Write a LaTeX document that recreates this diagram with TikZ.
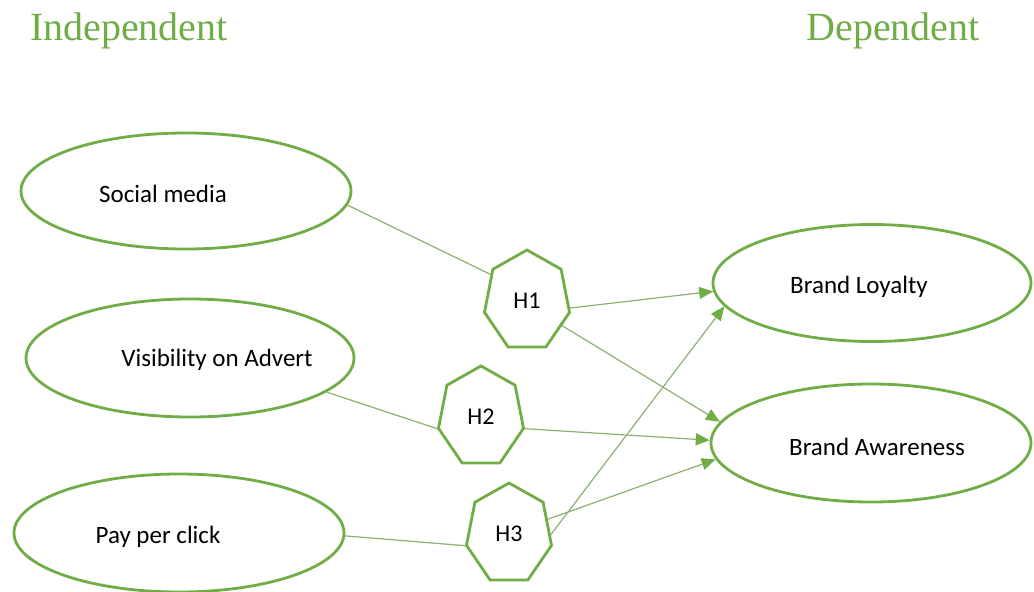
\documentclass[tikz,border=0pt]{standalone}
\usepackage{fontspec}
\setmainfont{Carlito}
\newfontfamily\titlefont{Liberation Serif}
\newfontfamily\hfont[FakeStretch=1.17]{Carlito}
\usetikzlibrary{shapes.geometric,arrows.meta}
\definecolor{ogreen}{RGB}{112,173,71}
\definecolor{linkc}{RGB}{140,175,115}
\begin{document}
\begin{tikzpicture}[x=1pt,y=-1pt,font=\fontsize{25}{30}\selectfont,
    oval/.style={draw=ogreen,line width=2.8pt,ellipse,inner sep=0pt},
    hept/.style={draw=ogreen,line width=2.8pt,regular polygon,regular polygon sides=7,
      minimum size=102pt,inner sep=0pt,xscale=0.855,transform shape,
      font=\hfont\fontsize{24}{28}\selectfont},
    link/.style={draw=linkc,line width=1.2pt},
    arr/.style={link,-{Triangle[length=14pt,width=12pt,color=ogreen,fill=ogreen]}}]
  \useasboundingbox (0,0) rectangle (1034,592);

  \node[anchor=base,text=ogreen,font=\titlefont\fontsize{40}{44}\selectfont] (indep) at (129,40) {Independent};
  \node[anchor=base,text=ogreen,font=\titlefont\fontsize{40}{44}\selectfont] (dep) at (893,40) {Dependent};

  % independent variables
  \node[oval,minimum width=330pt,minimum height=116pt,label={[xshift=-23pt,yshift=-3pt]center:Social media}] (social) at (186,191) {};
  \node[oval,minimum width=328pt,minimum height=118pt,label={[xshift=27pt,yshift=-2pt]center:Visibility on Advert}] (visib) at (190,358) {};
  \node[oval,minimum width=330pt,minimum height=118pt,label={[xshift=-21pt,yshift=-4pt]center:Pay per click}] (ppc) at (179,533) {};

  % dependent variables
  \node[oval,minimum width=318pt,minimum height=117pt,label={[xshift=-13pt,yshift=-4pt]center:Brand Loyalty}] (loyal) at (872,283) {};
  \node[oval,minimum width=320pt,minimum height=118pt,label={[xshift=6pt,yshift=-4pt]center:Brand Awareness}] (aware) at (871,443) {};

  % hypotheses
  \node[hept] (h1) at (527,301) {H1};
  \node[hept] (h2) at (481,417) {H2};
  \node[hept] (h3) at (509,534) {H3};

  \draw[link] (social.-5) -- (h1.148);
  \draw[link] (visib.-14) -- (h2.corner 3);
  \draw[link] (ppc.-1) -- (h3.corner 3);

  \draw[arr] (h1.-8) -- (loyal.183);
  \draw[arr] (h1.-31) -- (aware.172);
  \draw[arr] (h2.corner 6) -- (aware.179);
  \draw[arr] (h3.18) -- (aware.186);
  \draw[arr] (h3.-1) -- (loyal.189);
\end{tikzpicture}
\end{document}
